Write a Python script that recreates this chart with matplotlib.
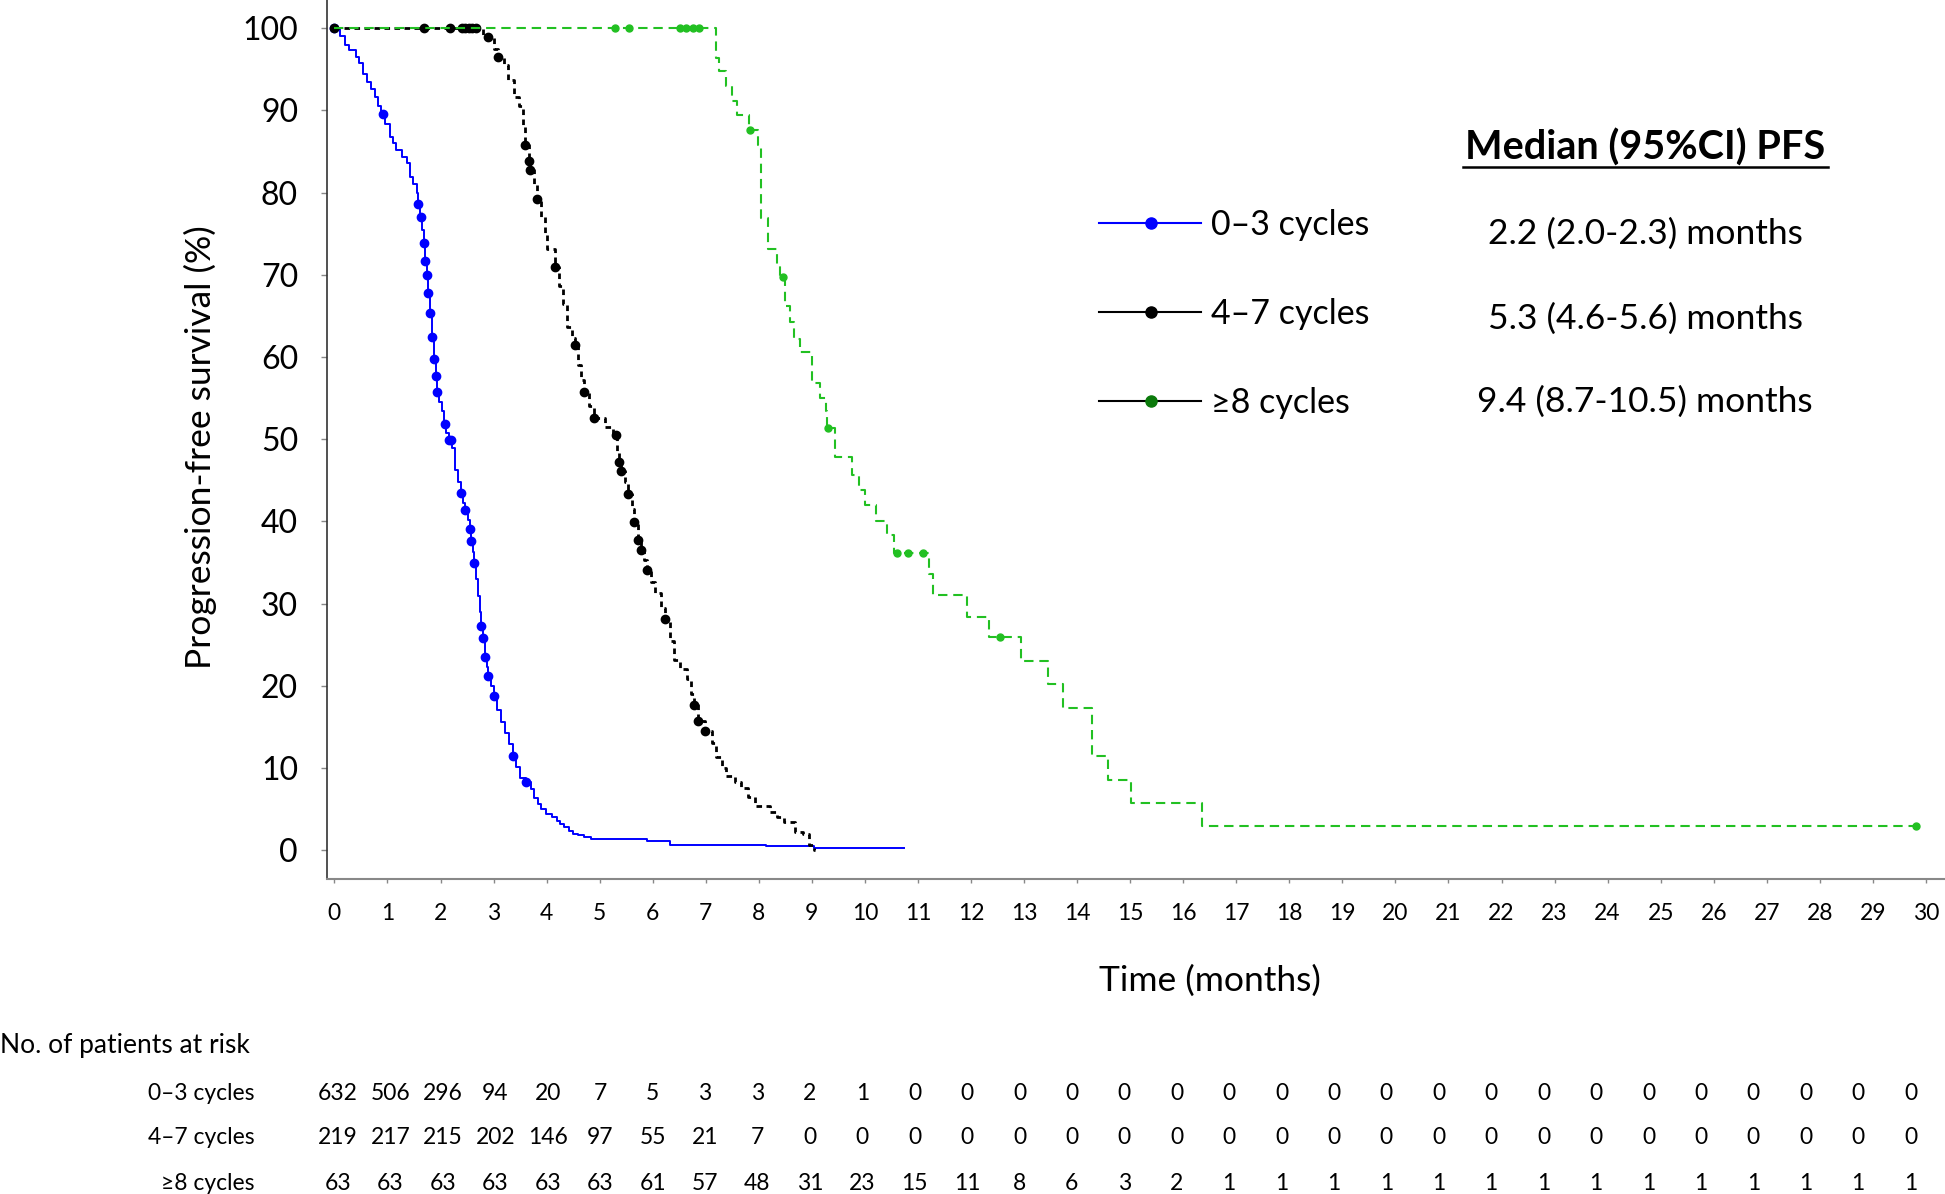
import numpy as np
import matplotlib
matplotlib.use("Agg")
import matplotlib.pyplot as plt
from matplotlib.lines import Line2D
import matplotlib.transforms as mtransforms

plt.rcParams["font.family"] = ["Lato", "DejaVu Sans"]

W, H = 1945, 1194

# ---- Kaplan-Meier step data (months, % PFS) ----
blue_t = [0, 0.10, 0.20, 0.28, 0.40, 0.47, 0.54, 0.62, 0.69, 0.76, 0.82, 0.88, 0.95,
          1.04, 1.10, 1.17, 1.27, 1.36, 1.42, 1.49, 1.55, 1.58, 1.62, 1.65, 1.68, 1.71,
          1.74, 1.77, 1.81, 1.84, 1.87, 1.91, 1.94, 1.98, 2.02, 2.06, 2.10, 2.16, 2.21,
          2.27, 2.33, 2.38, 2.43, 2.47, 2.51, 2.55, 2.57, 2.61, 2.64, 2.67, 2.71, 2.74,
          2.77, 2.81, 2.84, 2.87, 2.90, 2.96, 3.01, 3.07, 3.14, 3.21, 3.29, 3.36, 3.43,
          3.50, 3.61, 3.70, 3.76, 3.83, 3.90, 3.98, 4.10, 4.19, 4.26, 4.33, 4.42, 4.50,
          4.60, 4.70, 4.84, 5.89, 6.33, 8.14, 9.04, 10.73]
blue_s = [100, 99.0, 98.0, 97.3, 96.5, 95.8, 94.4, 93.5, 92.6, 91.6, 90.6, 89.6, 88.3,
          86.8, 86.0, 85.2, 84.3, 83.6, 81.9, 81.0, 80.0, 78.6, 77.0, 75.5, 73.9, 71.7,
          70.0, 67.8, 65.4, 62.5, 59.8, 57.7, 55.7, 54.5, 53.4, 51.8, 50.8, 49.9, 49.0,
          46.3, 44.8, 43.5, 42.3, 41.4, 40.2, 39.1, 37.6, 36.3, 35.0, 33.0, 30.9, 29.0,
          27.3, 25.8, 23.5, 22.3, 21.2, 20.0, 18.8, 17.1, 15.6, 14.3, 12.9, 11.5, 10.1,
          8.8, 8.3, 7.5, 6.4, 5.6, 5.0, 4.4, 4.0, 3.6, 3.2, 2.8, 2.3, 2.0,
          1.8, 1.6, 1.4, 1.1, 0.7, 0.5, 0.25, 0.25]
blue_cens = [0, 0.91, 1.58, 1.64, 1.68, 1.71, 1.74, 1.77, 1.81, 1.84, 1.87, 1.91, 1.94,
             2.09, 2.16, 2.20, 2.38, 2.47, 2.55, 2.57, 2.64, 2.77, 2.81, 2.84, 2.90,
             3.01, 3.36, 3.61]

black_t = [0, 2.80, 3.00, 3.08, 3.19, 3.28, 3.38, 3.47, 3.55, 3.60, 3.66, 3.69, 3.76,
           3.82, 3.90, 3.96, 4.01, 4.15, 4.23, 4.30, 4.39, 4.48, 4.54, 4.60, 4.64, 4.71,
           4.80, 4.90, 5.10, 5.25, 5.33, 5.36, 5.41, 5.48, 5.54, 5.60, 5.64, 5.73, 5.77,
           5.83, 5.90, 5.97, 6.04, 6.15, 6.23, 6.32, 6.40, 6.52, 6.65, 6.72, 6.78, 6.86,
           6.98, 7.12, 7.20, 7.30, 7.38, 7.55, 7.67, 7.80, 7.92, 8.21, 8.35, 8.47, 8.68,
           8.83, 8.94, 9.04, 9.06]
black_s = [100, 98.9, 97.5, 96.5, 95.5, 93.7, 91.7, 90.6, 88.0, 85.8, 83.8, 82.8, 81.0,
           79.2, 77.0, 75.0, 73.2, 71.0, 68.6, 66.5, 63.7, 62.3, 61.5, 59.0, 57.2, 55.7,
           54.0, 52.6, 51.5, 50.5, 48.5, 47.2, 46.1, 44.8, 43.3, 41.5, 39.9, 37.7, 36.5,
           35.3, 34.1, 32.6, 31.3, 29.5, 28.1, 25.5, 23.2, 22.0, 20.8, 19.0, 17.7, 15.7,
           14.5, 13.1, 11.3, 10.0, 9.0, 8.3, 7.6, 6.5, 5.4, 4.6, 4.0, 3.4, 2.2,
           2.0, 0.7, 0.0, 0.0]
black_cens = [0, 1.68, 2.17, 2.41, 2.47, 2.53, 2.60, 2.66, 2.89, 3.08, 3.60, 3.66, 3.69,
              3.82, 4.15, 4.54, 4.71, 4.90, 5.31, 5.36, 5.41, 5.54, 5.64, 5.73, 5.77,
              5.90, 6.23, 6.78, 6.86, 6.98]

green_t = [0, 7.19, 7.25, 7.39, 7.49, 7.59, 7.81, 7.98, 8.05, 8.18, 8.34, 8.40, 8.49,
           8.59, 8.66, 8.77, 9.01, 9.15, 9.26, 9.28, 9.43, 9.75, 9.89, 10.00, 10.21,
           10.41, 10.55, 11.20, 11.29, 11.93, 12.33, 12.94, 13.45, 13.74, 14.28, 14.59,
           15.01, 16.35, 29.82]
green_s = [100, 96.4, 94.8, 93.0, 91.1, 89.5, 87.6, 85.8, 76.9, 73.2, 71.3, 69.8, 66.2,
           64.3, 62.2, 60.6, 56.9, 55.0, 53.4, 51.4, 47.8, 45.7, 43.8, 42.0, 40.1,
           38.3, 36.2, 33.6, 31.1, 28.4, 25.9, 23.0, 20.2, 17.3, 11.5, 8.6,
           5.8, 2.9, 2.9]
green_cens = [5.29, 5.56, 6.51, 6.63, 6.75, 6.87, 7.83, 8.45, 9.31, 10.60, 10.82, 11.10,
              12.54, 29.82]

groups = ["0\u20133 cycles", "4\u20137 cycles", "\u22658 cycles"]
medians = ["2.2 (2.0-2.3) months", "5.3 (4.6-5.6) months", "9.4 (8.7-10.5) months"]

risk_03 = [632, 506, 296, 94, 20, 7, 5, 3, 3, 2, 1] + [0] * 20
risk_47 = [219, 217, 215, 202, 146, 97, 55, 21, 7, 0, 0] + [0] * 20
risk_8 = [63, 63, 63, 63, 63, 63, 61, 57, 48, 31, 23, 15, 11, 8, 6, 3, 2] + [1] * 14

BLUE = "#0000ff"
BLACK = "#000000"
GREEN = "#22c022"


def surv_at(times, surv, pts):
    times = np.asarray(times)
    surv = np.asarray(surv)
    idx = np.searchsorted(times, pts, side="right") - 1
    return surv[np.clip(idx, 0, len(surv) - 1)]


fig = plt.figure(figsize=(W / 100, H / 100), dpi=100)
ax = fig.add_axes([327 / W, 1 - 879.3 / H, 1 - 327 / W, 879.3 / H])

ax.plot(blue_t, blue_s, drawstyle="steps-post", color=BLUE, lw=1.4, zorder=3)
ax.plot(blue_cens, surv_at(blue_t, blue_s, blue_cens), "o", color=BLUE, ms=6, zorder=4)

ax.plot(black_t, black_s, drawstyle="steps-post", color=BLACK, lw=2.0,
        linestyle=(0, (2.0, 1.6)), zorder=3)
ax.plot(black_cens, surv_at(black_t, black_s, black_cens), "o", color=BLACK, ms=6, zorder=4)

ax.plot(green_t, green_s, drawstyle="steps-post", color=GREEN, lw=1.5,
        linestyle=(0, (4.5, 2.8)), zorder=5)
ax.plot(green_cens, surv_at(green_t, green_s, green_cens), "o", color=GREEN, ms=5, zorder=6)

ax.set_xlim(-0.14, 30.36)
ax.set_ylim(-3.53, 103.44)
ax.set_xticks(range(0, 31))
ax.set_yticks(range(0, 101, 10))
ax.tick_params(axis="x", labelsize=16.5, length=3, width=1, color="#888888", pad=14)
ax.tick_params(axis="y", labelsize=23, length=4.3, width=1, color="#888888", pad=16.5)
for side in ["top", "right"]:
    ax.spines[side].set_visible(False)
ax.spines["left"].set_color("#333333")
ax.spines["bottom"].set_color("#888888")
ax.spines["left"].set_linewidth(1.2)
ax.spines["bottom"].set_linewidth(1.5)

fig.text(200 / W, 1 - 447 / H, "Progression-free survival (%)", rotation=90,
         ha="center", va="center", fontsize=25.5)
fig.text(1210 / W, 1 - 981 / H, "Time (months)", ha="center", va="center", fontsize=25.5)

# legend drawn by hand
leg_y = [223, 312, 401]
leg_line = [BLUE, BLACK, BLACK]
leg_mark = [BLUE, BLACK, "#0b7a0b"]
for i in range(3):
    y = 1 - leg_y[i] / H
    fig.add_artist(Line2D([1099 / W, 1201 / W], [y, y], color=leg_line[i], lw=1.5,
                          transform=fig.transFigure))
    fig.add_artist(Line2D([1151 / W], [y], marker="o", ms=8, color=leg_mark[i],
                          transform=fig.transFigure))
    fig.text(1211 / W, 1 - (leg_y[i] + 12) / H, groups[i], ha="left", va="baseline",
             fontsize=24.5)

fig.text(1645 / W, 1 - 160 / H, "Median (95%CI) PFS", ha="center", va="baseline",
         fontsize=28.5, fontweight="bold")
fig.add_artist(Line2D([1463 / W, 1828 / W], [1 - 167 / H, 1 - 167 / H], color="black",
                      lw=1.8, transform=fig.transFigure))
med_base = [244, 329, 412]
for i in range(3):
    fig.text(1645 / W, 1 - med_base[i] / H, medians[i], ha="center", va="baseline",
             fontsize=25.5)

# number at risk table
fig.text(0, 1 - 1046 / H, "No. of patients at risk", ha="left", va="center", fontsize=19)
trans = mtransforms.blended_transform_factory(ax.transData, fig.transFigure)
row_y = [1094, 1137, 1183]
for i, row in enumerate([risk_03, risk_47, risk_8]):
    y = 1 - row_y[i] / H
    fig.text(255 / W, y, groups[i], ha="right", va="center", fontsize=16.5)
    for j, n in enumerate(row):
        ax.text(0.07 + j * 0.988, y, str(n), transform=trans, ha="center", va="center",
                fontsize=16.5, clip_on=False)

fig.savefig("out.png", dpi=100)
